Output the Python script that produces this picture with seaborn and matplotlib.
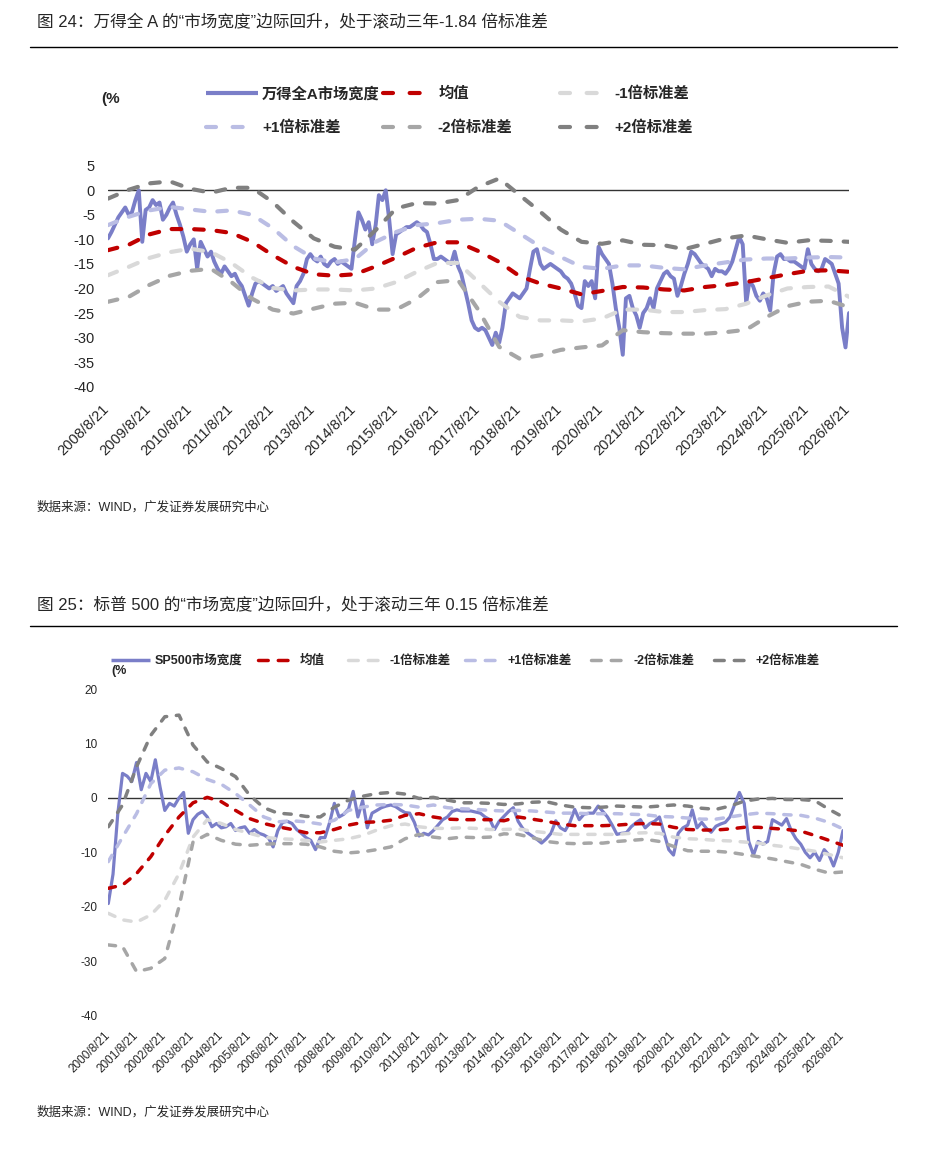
import numpy as np
import pandas as pd
import matplotlib
matplotlib.use("Agg")
import matplotlib.pyplot as plt
import seaborn as sns
from matplotlib.lines import Line2D
from matplotlib.transforms import ScaledTranslation

# ---------------- data: chart 24 (Wind All A market breadth, %) ----------------
a_start = "2008-08-21"
a_main = [
    -9.8, -8.5, -7, -5.5, -4.5, -3.5, -5, -4.5, -2, 0,
    -10.5, -4, -3.5, -2, -3, -2.5, -6, -5, -3.5, -2.5,
    -5, -7, -9.5, -12.5, -11, -10, -16, -10.5, -12, -13.5,
    -12.5, -14.5, -16, -17, -15.5, -16.5, -17.5, -17, -18.5, -19.5,
    -21.5, -23.5, -21, -19, -18.5, -19, -19.5, -20, -19.5, -20.5,
    -20, -19.5, -21, -22, -23, -19.5, -18.5, -17, -14, -13,
    -14, -14.5, -13.5, -15, -15.5, -14.5, -14, -15, -14.5, -15,
    -15.5, -16, -10, -4.5, -6, -8, -6.5, -11, -7, -1,
    -2, 0, -6, -13, -9, -8.5, -8, -7.5, -7.5, -7,
    -6.5, -7, -8, -8.5, -11, -14, -14, -13.5, -14, -14.5,
    -15, -12.5, -15.5, -17, -20, -23, -26.5, -28, -28.5, -28,
    -28.5, -30, -31.5, -29, -31, -28, -23, -22, -21, -21.5,
    -22, -21, -20, -16, -12.5, -12, -15, -16, -15.5, -15,
    -15.5, -16, -16.5, -17.5, -18, -19, -21, -23.5, -24, -18.5,
    -19.5, -18.5, -22, -11.5, -13, -14, -15, -19, -24, -28,
    -33.5, -22, -21.5, -24, -25.5, -28, -25, -24, -22, -24,
    -20, -18.5, -17, -16.5, -17.5, -18, -21.5, -19.5, -17, -15,
    -12.5, -13, -14, -15, -15.5, -16, -17.5, -16, -16.5, -16.5,
    -17, -16, -14.5, -12, -9.5, -11, -23, -18.5, -19.5, -21.5,
    -22.5, -21, -22, -24.5, -17, -13.5, -13, -14, -14, -14.5,
    -14.5, -15, -15.5, -16, -12, -15, -16, -16.5, -16, -14,
    -14.5, -15, -17, -19, -28, -32, -25,
]
a_mean = [-12.2, -11.1, -9.0, -7.9, -7.9, -8.1, -8.7, -10.5, -13.2, -15.6,
          -17.1, -17.4, -17.1, -15.5, -13.7, -11.7, -10.6, -10.6, -12.4, -14.6,
          -17.5, -19.0, -20.0, -21.2, -20.5, -19.7, -19.8, -20.2, -20.4, -19.7,
          -19.3, -18.7, -17.9, -17.1, -16.4, -16.3, -16.6]
a_minus1 = [-17.3, -15.6, -13.8, -12.6, -11.9, -12.6, -14.8, -17.8, -19.9, -20.4,
            -20.2, -20.2, -20.4, -20.0, -18.7, -16.6, -14.8, -14.8, -18.7, -22.7,
            -25.8, -26.5, -26.5, -26.7, -26.1, -24.3, -24.3, -24.8, -24.8, -24.4,
            -24.2, -23.1, -21.4, -20.0, -19.7, -19.6, -21.7]
a_plus1 = [-7.1, -5.4, -4.1, -3.4, -3.9, -4.4, -4.1, -5.0, -7.7, -11.4,
           -13.9, -14.7, -14.0, -10.5, -8.5, -7.1, -6.7, -6.0, -5.8, -6.2,
           -8.8, -11.5, -13.6, -15.6, -16.0, -15.3, -15.3, -15.8, -16.1, -15.3,
           -14.7, -14.1, -13.9, -13.9, -13.7, -13.6, -13.7]
a_minus2 = [-22.7, -21.7, -19.3, -17.4, -16.4, -16.0, -18.7, -22.1, -24.3, -25.1,
            -24.1, -23.1, -22.9, -24.3, -24.3, -22.1, -18.7, -18.3, -24.4, -31.9,
            -34.3, -33.6, -32.5, -32.0, -31.6, -28.5, -28.9, -29.1, -29.2, -29.2,
            -28.9, -28.4, -25.8, -23.6, -22.7, -22.5, -23.8]
a_plus2 = [-1.7, 0.1, 1.4, 1.8, 0.3, -0.5, 0.5, 0.5, -2.4, -6.4,
           -9.8, -11.5, -12.1, -8.1, -3.7, -2.6, -2.7, -2.0, 0.7, 2.4,
           -1.0, -4.4, -8.0, -10.5, -10.9, -10.2, -11.1, -11.2, -12.0, -10.9,
           -9.8, -9.2, -10.0, -10.7, -10.2, -10.3, -10.5]
a_years = list(range(2008, 2027))
a_yticks = [5, 0, -5, -10, -15, -20, -25, -30, -35, -40]

# ---------------- data: chart 25 (S&P 500 market breadth, %) ----------------
s_start = "2000-08-21"
s_main = [
    -19.4, -14, -3, 4.5, 4, 3, 6.5, 1.5, 4.5, 3,
    7, 2, -2.3, -1, -1.5, 0, 1, -6.5, -4, -3,
    -2.5, -3.5, -5.3, -4.7, -5.5, -5.3, -4.7, -6, -5.5, -5.3,
    -6.5, -5.8, -6.5, -6.8, -7.3, -9, -6, -4.5, -4.3, -4.7,
    -5.8, -6.5, -7.3, -7.8, -9.5, -7.3, -7.3, -4.5, -1, -3.5,
    -3, -2, 1.2, -3.5, -0.5, -5.5, -2.8, -2.3, -1.8, -1.5,
    -1.3, -1.6, -2.2, -2.7, -2.8, -4.5, -7, -6.5, -6.8, -6,
    -5, -4, -3.5, -2.5, -2.2, -2.4, -2.4, -2.4, -2.6, -2.8,
    -3.5, -4, -5.8, -4.3, -3.4, -2.5, -1.8, -4.3, -5.6, -6.4,
    -7, -7.6, -8.3, -7.5, -6.5, -4.2, -5.5, -6, -4.5, -2.1,
    -4, -3, -2.8, -2.8, -1.5, -2.5, -3.5, -5, -6.7, -6.5,
    -6.4, -5.3, -4.6, -4, -5.5, -4.7, -4.3, -3.5, -6.5, -9.5,
    -10.5, -6.5, -5.5, -5, -2.2, -5.5, -4.5, -5.6, -6.3, -5.2,
    -4.8, -4.5, -3.5, -1.2, 1, -1, -8, -10.5, -8, -8.5,
    -8, -4, -4.5, -5, -3.8, -6, -7.5, -8.5, -10, -11,
    -10, -11.5, -9.5, -10.5, -12.5, -10, -6,
]
s_mean = [-16.6, -16.0, -13.9, -10.8, -6.9, -3.5, -0.9, 0.1, -0.7, -2.3,
          -3.8, -4.7, -5.3, -5.8, -6.4, -6.4, -5.8, -5.0, -4.5, -4.4,
          -4.1, -3.2, -2.9, -3.5, -3.9, -4.0, -4.0, -4.0, -4.2, -3.5,
          -3.9, -4.3, -4.8, -5.1, -5.1, -5.1, -5.0, -4.8, -4.7, -4.8,
          -5.4, -5.8, -5.9, -5.9, -5.7, -5.4, -5.4, -5.6, -5.8, -6.1,
          -6.9, -7.8, -8.7]
s_minus1 = [-21.2, -22.4, -22.8, -21.5, -18.8, -13.9, -7.2, -4.0, -4.7, -5.8,
            -6.5, -7.2, -7.5, -7.6, -7.8, -8.1, -7.8, -7.5, -6.9, -5.9,
            -5.1, -4.8, -5.3, -5.6, -5.6, -5.5, -5.6, -5.8, -5.8, -5.7,
            -6.1, -6.4, -6.7, -6.7, -6.7, -6.7, -6.7, -6.5, -6.4, -6.5,
            -7.2, -7.5, -7.6, -7.8, -7.9, -8.1, -8.3, -8.7, -9.0, -9.4,
            -9.8, -10.4, -11.0]
s_plus1 = [-11.7, -7.2, -2.9, 2.6, 5.1, 5.5, 4.8, 3.4, 2.5, 0.8,
           -1.3, -3.5, -4.4, -4.2, -4.4, -4.8, -4.1, -2.3, -1.7, -1.3,
           -1.2, -1.3, -1.7, -1.3, -1.8, -2.0, -2.1, -2.3, -2.4, -2.3,
           -2.4, -2.6, -2.8, -2.8, -2.9, -2.9, -2.9, -3.0, -3.1, -3.4,
           -3.5, -3.7, -3.9, -3.9, -3.5, -3.1, -2.8, -2.9, -3.1, -3.2,
           -3.7, -4.5, -5.7]
s_minus2 = [-27.0, -27.3, -31.9, -31.3, -29.5, -20.0, -8.1, -6.7, -7.8, -8.5,
            -8.7, -8.5, -8.4, -8.4, -8.5, -9.0, -9.8, -10.1, -9.9, -9.5,
            -9.0, -7.5, -6.7, -7.2, -7.5, -7.2, -7.3, -7.2, -6.6, -6.7,
            -7.3, -8.0, -8.3, -8.4, -8.3, -8.3, -8.0, -7.8, -7.6, -8.0,
            -8.9, -9.7, -9.8, -9.8, -10.0, -10.4, -10.8, -11.2, -11.7, -12.2,
            -13.1, -13.8, -13.6]
s_plus2 = [-5.3, -1.3, 5.7, 11.5, 14.9, 15.2, 9.7, 6.6, 5.4, 3.9,
           0.5, -1.8, -2.8, -3.0, -3.4, -3.5, -1.7, -0.4, 0.3, 0.8,
           1.0, 0.7, -0.1, 0.1, -0.4, -0.9, -0.9, -1.0, -1.2, -1.1,
           -0.8, -0.7, -1.3, -1.7, -1.8, -1.7, -1.5, -1.6, -1.7, -1.5,
           -1.3, -1.5, -1.9, -2.1, -1.5, -0.6, -0.2, -0.1, -0.3, -0.3,
           -0.5, -2.1, -3.5]
s_years = list(range(2000, 2027))
s_yticks = [20, 10, 0, -10, -20, -30, -40]

# ---------------- texts ----------------
title_a = "图 24：万得全 A 的“市场宽度”边际回升，处于滚动三年-1.84 倍标准差"
title_s = "图 25：标普 500 的“市场宽度”边际回升，处于滚动三年 0.15 倍标准差"
source_txt = "数据来源：WIND，广发证券发展研究中心"
labels_a = ["万得全A市场宽度", "均值", "-1倍标准差", "+1倍标准差", "-2倍标准差", "+2倍标准差"]
labels_s = ["SP500市场宽度", "均值", "-1倍标准差", "+1倍标准差", "-2倍标准差", "+2倍标准差"]
unit_txt = "(%"

# ---------------- style ----------------
sns.set_style("white")
plt.rcParams["font.family"] = ["Liberation Sans", "Noto Sans CJK SC"]
plt.rcParams["axes.unicode_minus"] = False

C_MAIN = "#7A7EC8"
C_MEAN = "#C00000"
C_M1 = "#D9D9D9"
C_P1 = "#BABDE4"
C_M2 = "#A6A6A6"
C_P2 = "#808080"
band_colors = [C_MEAN, C_M1, C_P1, C_M2, C_P2]

W, H = 940, 1172
fig = plt.figure(figsize=(W / 100, H / 100), dpi=100)


def fx(px):
    return px / W


def fy(py):
    return 1 - py / H


def month_dates(start, n, step):
    return pd.date_range(start, periods=n, freq=pd.DateOffset(months=step))


def draw_chart(ax, start, main, bands, main_step, years, yticks, ylim,
               lw_main, lw_dash, dash, fs, ypad, xpad):
    d_main = month_dates(start, len(main), main_step)
    d_band = month_dates(start, len(bands[0]), 6)
    ax.axhline(0, color="#333333", lw=1.0, zorder=1)
    sns.lineplot(x=d_main, y=main, ax=ax, color=C_MAIN, lw=lw_main,
                 estimator=None, legend=False, zorder=2)
    for vals, col in zip(bands, band_colors):
        sns.lineplot(x=d_band, y=vals, ax=ax, color=col, lw=lw_dash,
                     linestyle=(0, dash), dash_capstyle="round",
                     estimator=None, legend=False, zorder=3)
    ax.set_xlim(d_main[0], d_main[-1])
    ax.set_ylim(*ylim)
    ax.set_yticks(yticks)
    ax.set_yticklabels([str(v) for v in yticks])
    ticks = [pd.Timestamp(f"{y}-08-21") for y in years]
    ax.set_xticks(ticks)
    ax.set_xticklabels([f"{y}/8/21" for y in years], rotation=45, ha="right", va="top")
    ax.tick_params(axis="y", labelsize=fs, pad=ypad, length=0)
    ax.tick_params(axis="x", labelsize=fs, pad=xpad, length=0)
    off = ScaledTranslation(0.04, 0, fig.dpi_scale_trans)
    for lab in ax.get_xticklabels():
        lab.set_transform(lab.get_transform() + off)
    ax.set_xlabel("")
    ax.set_ylabel("")
    for s in ax.spines.values():
        s.set_visible(False)
    ax.grid(False)
    ax.set_facecolor("none")


def entry(x_px, y_px, color, lw, ls, label, fs, hl_px, pad_px, weight):
    h = Line2D([], [], color=color, lw=lw, linestyle=ls,
               dash_capstyle="round", solid_capstyle="butt")
    fpx = fs * 100 / 72
    fig.legend(handles=[h], labels=[label], loc="center left",
               bbox_to_anchor=(fx(x_px), fy(y_px)), frameon=False,
               borderpad=0, borderaxespad=0, handlelength=hl_px / fpx,
               handletextpad=pad_px / fpx,
               prop={"size": fs, "weight": weight})


# ---------------- chart 24 ----------------
ax1 = fig.add_axes([fx(108), fy(386.7), (849 - 108) / W, (386.7 - 165.7) / H])
draw_chart(ax1, a_start, a_main, [a_mean, a_minus1, a_plus1, a_minus2, a_plus2], 1,
           a_years, a_yticks, (-40, 5), 2.8, 3.0, (2.3, 3.1), 10.5, 9.4, 11)

fig.text(fx(37), fy(22), title_a, fontsize=12, va="center", ha="left")
fig.add_artist(Line2D([fx(30), fx(897)], [fy(47), fy(47)], color="black", lw=1.0))
fig.text(fx(101), fy(99), unit_txt, fontsize=11, fontweight="bold", va="center", ha="left")

dl = (0, (2.4, 4.0))
entry(206, 94, C_MAIN, 3.0, "-", labels_a[0], 11, 52, 4, "bold")
entry(383, 94, C_MEAN, 3.0, dl, labels_a[1], 11, 41, 15, "bold")
entry(560, 94, C_M1, 3.0, dl, labels_a[2], 11, 41, 13, "bold")
entry(206, 128, C_P1, 3.0, dl, labels_a[3], 11, 41, 15, "bold")
entry(383, 128, C_M2, 3.0, dl, labels_a[4], 11, 41, 13, "bold")
entry(560, 128, C_P2, 3.0, dl, labels_a[5], 11, 41, 13, "bold")

fig.text(fx(37), fy(507), source_txt, fontsize=9, va="center", ha="left")

# ---------------- chart 25 ----------------
ax2 = fig.add_axes([fx(108.3), fy(1015.7), (843 - 108.3) / W, (1015.7 - 689) / H])
draw_chart(ax2, s_start, s_main, [s_mean, s_minus1, s_plus1, s_minus2, s_plus2], 2,
           s_years, s_yticks, (-40, 20), 2.3, 2.5, (2.1, 2.8), 8.5, 8, 10)

fig.text(fx(37), fy(604), title_s, fontsize=12, va="center", ha="left")
fig.add_artist(Line2D([fx(30), fx(897)], [fy(626), fy(626)], color="black", lw=1.0))
fig.text(fx(111), fy(671), unit_txt, fontsize=9, fontweight="bold", va="center", ha="left")

dl2 = (0, (2.8, 2.9))
entry(111, 661, C_MAIN, 2.5, "-", labels_s[0], 9, 39, 5, "bold")
entry(258, 661, C_MEAN, 2.5, dl2, labels_s[1], 9, 33, 9, "bold")
entry(348, 661, C_M1, 2.5, dl2, labels_s[2], 9, 33, 8, "bold")
entry(465, 661, C_P1, 2.5, dl2, labels_s[3], 9, 33, 10, "bold")
entry(591, 661, C_M2, 2.5, dl2, labels_s[4], 9, 33, 9, "bold")
entry(714, 661, C_P2, 2.5, dl2, labels_s[5], 9, 33, 9, "bold")

fig.text(fx(37), fy(1112), source_txt, fontsize=9, va="center", ha="left")

fig.savefig("out.png", dpi=100, facecolor="white")
